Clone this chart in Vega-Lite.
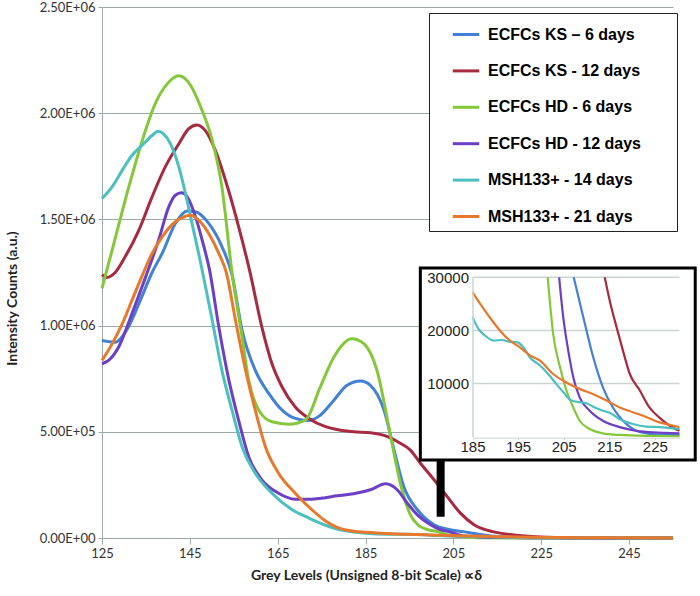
{
  "$schema": "https://vega.github.io/schema/vega-lite/v6.json",
  "width": 571,
  "height": 531,
  "autosize": {"type": "none"},
  "padding": {"left": 102, "top": 7, "right": 27, "bottom": 58},
  "background": "white",
  "config": {"view": {"stroke": null}, "font": "Lato", "axis": {"labelFont": "Lato", "titleFont": "Lato"}},
  "datasets": {
    "main": [
      {"series": "ECFCs KS – 6 days", "grey": 125, "count": 930000},
      {"series": "ECFCs KS – 6 days", "grey": 128, "count": 922000},
      {"series": "ECFCs KS – 6 days", "grey": 131, "count": 993000},
      {"series": "ECFCs KS – 6 days", "grey": 134, "count": 1133000},
      {"series": "ECFCs KS – 6 days", "grey": 136.4, "count": 1250000},
      {"series": "ECFCs KS – 6 days", "grey": 138.7, "count": 1340000},
      {"series": "ECFCs KS – 6 days", "grey": 141.7, "count": 1481000},
      {"series": "ECFCs KS – 6 days", "grey": 144.4, "count": 1540000},
      {"series": "ECFCs KS – 6 days", "grey": 146.3, "count": 1536000},
      {"series": "ECFCs KS – 6 days", "grey": 149.3, "count": 1481000},
      {"series": "ECFCs KS – 6 days", "grey": 152.3, "count": 1372000},
      {"series": "ECFCs KS – 6 days", "grey": 154.6, "count": 1239000},
      {"series": "ECFCs KS – 6 days", "grey": 156.9, "count": 977000},
      {"series": "ECFCs KS – 6 days", "grey": 159.9, "count": 789000},
      {"series": "ECFCs KS – 6 days", "grey": 163, "count": 680000},
      {"series": "ECFCs KS – 6 days", "grey": 166, "count": 602000},
      {"series": "ECFCs KS – 6 days", "grey": 169, "count": 563000},
      {"series": "ECFCs KS – 6 days", "grey": 172, "count": 553000},
      {"series": "ECFCs KS – 6 days", "grey": 174.5, "count": 575000},
      {"series": "ECFCs KS – 6 days", "grey": 177.8, "count": 649000},
      {"series": "ECFCs KS – 6 days", "grey": 180.8, "count": 719000},
      {"series": "ECFCs KS – 6 days", "grey": 183.9, "count": 739000},
      {"series": "ECFCs KS – 6 days", "grey": 186.1, "count": 719000},
      {"series": "ECFCs KS – 6 days", "grey": 189.2, "count": 602000},
      {"series": "ECFCs KS – 6 days", "grey": 191.5, "count": 414000},
      {"series": "ECFCs KS – 6 days", "grey": 193.7, "count": 242000},
      {"series": "ECFCs KS – 6 days", "grey": 196.8, "count": 133000},
      {"series": "ECFCs KS – 6 days", "grey": 200.6, "count": 62500},
      {"series": "ECFCs KS – 6 days", "grey": 204, "count": 40000},
      {"series": "ECFCs KS – 6 days", "grey": 207.2, "count": 30000},
      {"series": "ECFCs KS – 6 days", "grey": 211.5, "count": 14900},
      {"series": "ECFCs KS – 6 days", "grey": 215.8, "count": 5500},
      {"series": "ECFCs KS – 6 days", "grey": 220.2, "count": 1460},
      {"series": "ECFCs KS – 6 days", "grey": 226, "count": 390},
      {"series": "ECFCs KS – 6 days", "grey": 240, "count": 200},
      {"series": "ECFCs KS – 6 days", "grey": 255, "count": 100},
      {"series": "ECFCs KS - 12 days", "grey": 125, "count": 1240000},
      {"series": "ECFCs KS - 12 days", "grey": 126.1, "count": 1227000},
      {"series": "ECFCs KS - 12 days", "grey": 128, "count": 1250000},
      {"series": "ECFCs KS - 12 days", "grey": 130.3, "count": 1325000},
      {"series": "ECFCs KS - 12 days", "grey": 133.4, "count": 1450000},
      {"series": "ECFCs KS - 12 days", "grey": 136.4, "count": 1606000},
      {"series": "ECFCs KS - 12 days", "grey": 139.4, "count": 1747000},
      {"series": "ECFCs KS - 12 days", "grey": 142.5, "count": 1856000},
      {"series": "ECFCs KS - 12 days", "grey": 144.7, "count": 1926000},
      {"series": "ECFCs KS - 12 days", "grey": 146.6, "count": 1945000},
      {"series": "ECFCs KS - 12 days", "grey": 148.5, "count": 1919000},
      {"series": "ECFCs KS - 12 days", "grey": 150.8, "count": 1825000},
      {"series": "ECFCs KS - 12 days", "grey": 153.8, "count": 1637000},
      {"series": "ECFCs KS - 12 days", "grey": 156.1, "count": 1466000},
      {"series": "ECFCs KS - 12 days", "grey": 158.6, "count": 1260000},
      {"series": "ECFCs KS - 12 days", "grey": 161.4, "count": 993000},
      {"series": "ECFCs KS - 12 days", "grey": 163.7, "count": 820000},
      {"series": "ECFCs KS - 12 days", "grey": 166, "count": 711000},
      {"series": "ECFCs KS - 12 days", "grey": 169, "count": 617000},
      {"series": "ECFCs KS - 12 days", "grey": 172.1, "count": 563000},
      {"series": "ECFCs KS - 12 days", "grey": 175.9, "count": 524000},
      {"series": "ECFCs KS - 12 days", "grey": 178.5, "count": 511000},
      {"series": "ECFCs KS - 12 days", "grey": 182.3, "count": 500000},
      {"series": "ECFCs KS - 12 days", "grey": 186.1, "count": 495000},
      {"series": "ECFCs KS - 12 days", "grey": 190, "count": 477000},
      {"series": "ECFCs KS - 12 days", "grey": 193, "count": 445000},
      {"series": "ECFCs KS - 12 days", "grey": 195.2, "count": 414000},
      {"series": "ECFCs KS - 12 days", "grey": 197.5, "count": 352000},
      {"series": "ECFCs KS - 12 days", "grey": 200.6, "count": 274000},
      {"series": "ECFCs KS - 12 days", "grey": 203.6, "count": 195000},
      {"series": "ECFCs KS - 12 days", "grey": 206.6, "count": 117000},
      {"series": "ECFCs KS - 12 days", "grey": 209.7, "count": 62500},
      {"series": "ECFCs KS - 12 days", "grey": 214, "count": 30000},
      {"series": "ECFCs KS - 12 days", "grey": 218, "count": 16200},
      {"series": "ECFCs KS - 12 days", "grey": 223.8, "count": 5500},
      {"series": "ECFCs KS - 12 days", "grey": 228.2, "count": 2100},
      {"series": "ECFCs KS - 12 days", "grey": 235, "count": 600},
      {"series": "ECFCs KS - 12 days", "grey": 255, "count": 100},
      {"series": "ECFCs HD - 6 days", "grey": 125, "count": 1175000},
      {"series": "ECFCs HD - 6 days", "grey": 128, "count": 1410000},
      {"series": "ECFCs HD - 6 days", "grey": 131.1, "count": 1653000},
      {"series": "ECFCs HD - 6 days", "grey": 134.9, "count": 1919000},
      {"series": "ECFCs HD - 6 days", "grey": 137.1, "count": 2044000},
      {"series": "ECFCs HD - 6 days", "grey": 139.8, "count": 2137000},
      {"series": "ECFCs HD - 6 days", "grey": 142.5, "count": 2176000},
      {"series": "ECFCs HD - 6 days", "grey": 144.7, "count": 2145000},
      {"series": "ECFCs HD - 6 days", "grey": 147.8, "count": 2012000},
      {"series": "ECFCs HD - 6 days", "grey": 150.1, "count": 1872000},
      {"series": "ECFCs HD - 6 days", "grey": 152.3, "count": 1653000},
      {"series": "ECFCs HD - 6 days", "grey": 154.6, "count": 1250000},
      {"series": "ECFCs HD - 6 days", "grey": 156.9, "count": 946000},
      {"series": "ECFCs HD - 6 days", "grey": 158.4, "count": 742000},
      {"series": "ECFCs HD - 6 days", "grey": 160.7, "count": 602000},
      {"series": "ECFCs HD - 6 days", "grey": 163.7, "count": 547000},
      {"series": "ECFCs HD - 6 days", "grey": 167.5, "count": 536000},
      {"series": "ECFCs HD - 6 days", "grey": 171.3, "count": 555000},
      {"series": "ECFCs HD - 6 days", "grey": 174.7, "count": 711000},
      {"series": "ECFCs HD - 6 days", "grey": 177.8, "count": 852000},
      {"series": "ECFCs HD - 6 days", "grey": 181.9, "count": 938000},
      {"series": "ECFCs HD - 6 days", "grey": 184.6, "count": 915000},
      {"series": "ECFCs HD - 6 days", "grey": 187.6, "count": 789000},
      {"series": "ECFCs HD - 6 days", "grey": 190.7, "count": 480000},
      {"series": "ECFCs HD - 6 days", "grey": 192.9, "count": 260000},
      {"series": "ECFCs HD - 6 days", "grey": 195.2, "count": 110000},
      {"series": "ECFCs HD - 6 days", "grey": 197, "count": 60000},
      {"series": "ECFCs HD - 6 days", "grey": 199, "count": 40000},
      {"series": "ECFCs HD - 6 days", "grey": 201.5, "count": 30000},
      {"series": "ECFCs HD - 6 days", "grey": 204.2, "count": 13060},
      {"series": "ECFCs HD - 6 days", "grey": 207.1, "count": 5500},
      {"series": "ECFCs HD - 6 days", "grey": 210.7, "count": 1460},
      {"series": "ECFCs HD - 6 days", "grey": 217.3, "count": 330},
      {"series": "ECFCs HD - 6 days", "grey": 230, "count": 80},
      {"series": "ECFCs HD - 6 days", "grey": 255, "count": 10},
      {"series": "ECFCs HD - 12 days", "grey": 125, "count": 820000},
      {"series": "ECFCs HD - 12 days", "grey": 126.5, "count": 836000},
      {"series": "ECFCs HD - 12 days", "grey": 128.8, "count": 899000},
      {"series": "ECFCs HD - 12 days", "grey": 131.8, "count": 1055000},
      {"series": "ECFCs HD - 12 days", "grey": 134.9, "count": 1227000},
      {"series": "ECFCs HD - 12 days", "grey": 137.9, "count": 1403000},
      {"series": "ECFCs HD - 12 days", "grey": 140.2, "count": 1559000},
      {"series": "ECFCs HD - 12 days", "grey": 141.7, "count": 1614000},
      {"series": "ECFCs HD - 12 days", "grey": 143.1, "count": 1625000},
      {"series": "ECFCs HD - 12 days", "grey": 144.4, "count": 1606000},
      {"series": "ECFCs HD - 12 days", "grey": 146.3, "count": 1512000},
      {"series": "ECFCs HD - 12 days", "grey": 147.8, "count": 1403000},
      {"series": "ECFCs HD - 12 days", "grey": 149.5, "count": 1260000},
      {"series": "ECFCs HD - 12 days", "grey": 151.6, "count": 993000},
      {"series": "ECFCs HD - 12 days", "grey": 153.9, "count": 742000},
      {"series": "ECFCs HD - 12 days", "grey": 156.1, "count": 555000},
      {"series": "ECFCs HD - 12 days", "grey": 158.4, "count": 383000},
      {"series": "ECFCs HD - 12 days", "grey": 161.4, "count": 274000},
      {"series": "ECFCs HD - 12 days", "grey": 165.2, "count": 211000},
      {"series": "ECFCs HD - 12 days", "grey": 169, "count": 183000},
      {"series": "ECFCs HD - 12 days", "grey": 172.8, "count": 183000},
      {"series": "ECFCs HD - 12 days", "grey": 175.9, "count": 190000},
      {"series": "ECFCs HD - 12 days", "grey": 178.5, "count": 199000},
      {"series": "ECFCs HD - 12 days", "grey": 182.3, "count": 208000},
      {"series": "ECFCs HD - 12 days", "grey": 186.1, "count": 227000},
      {"series": "ECFCs HD - 12 days", "grey": 189.6, "count": 255000},
      {"series": "ECFCs HD - 12 days", "grey": 192.2, "count": 227000},
      {"series": "ECFCs HD - 12 days", "grey": 194.5, "count": 164000},
      {"series": "ECFCs HD - 12 days", "grey": 196.8, "count": 109000},
      {"series": "ECFCs HD - 12 days", "grey": 199.8, "count": 62500},
      {"series": "ECFCs HD - 12 days", "grey": 202, "count": 40000},
      {"series": "ECFCs HD - 12 days", "grey": 204, "count": 30000},
      {"series": "ECFCs HD - 12 days", "grey": 207.1, "count": 11200},
      {"series": "ECFCs HD - 12 days", "grey": 210.7, "count": 4900},
      {"series": "ECFCs HD - 12 days", "grey": 217.3, "count": 1800},
      {"series": "ECFCs HD - 12 days", "grey": 226, "count": 750},
      {"series": "ECFCs HD - 12 days", "grey": 240, "count": 300},
      {"series": "ECFCs HD - 12 days", "grey": 255, "count": 100},
      {"series": "MSH133+ - 14 days", "grey": 125, "count": 1598000},
      {"series": "MSH133+ - 14 days", "grey": 127.3, "count": 1653000},
      {"series": "MSH133+ - 14 days", "grey": 129.6, "count": 1731000},
      {"series": "MSH133+ - 14 days", "grey": 131.8, "count": 1801000},
      {"series": "MSH133+ - 14 days", "grey": 134.1, "count": 1848000},
      {"series": "MSH133+ - 14 days", "grey": 136.4, "count": 1895000},
      {"series": "MSH133+ - 14 days", "grey": 137.8, "count": 1915000},
      {"series": "MSH133+ - 14 days", "grey": 139, "count": 1903000},
      {"series": "MSH133+ - 14 days", "grey": 140.6, "count": 1856000},
      {"series": "MSH133+ - 14 days", "grey": 142.5, "count": 1747000},
      {"series": "MSH133+ - 14 days", "grey": 144, "count": 1622000},
      {"series": "MSH133+ - 14 days", "grey": 145.5, "count": 1481000},
      {"series": "MSH133+ - 14 days", "grey": 147, "count": 1340000},
      {"series": "MSH133+ - 14 days", "grey": 150.1, "count": 1024000},
      {"series": "MSH133+ - 14 days", "grey": 152.3, "count": 789000},
      {"series": "MSH133+ - 14 days", "grey": 154.6, "count": 602000},
      {"series": "MSH133+ - 14 days", "grey": 156.9, "count": 430000},
      {"series": "MSH133+ - 14 days", "grey": 159.9, "count": 305000},
      {"series": "MSH133+ - 14 days", "grey": 163.7, "count": 211000},
      {"series": "MSH133+ - 14 days", "grey": 168.3, "count": 133000},
      {"series": "MSH133+ - 14 days", "grey": 172.1, "count": 94000},
      {"series": "MSH133+ - 14 days", "grey": 175.9, "count": 60000},
      {"series": "MSH133+ - 14 days", "grey": 178.5, "count": 42000},
      {"series": "MSH133+ - 14 days", "grey": 182.3, "count": 28000},
      {"series": "MSH133+ - 14 days", "grey": 185, "count": 22500},
      {"series": "MSH133+ - 14 days", "grey": 189.6, "count": 18100},
      {"series": "MSH133+ - 14 days", "grey": 194.7, "count": 17800},
      {"series": "MSH133+ - 14 days", "grey": 199.8, "count": 13400},
      {"series": "MSH133+ - 14 days", "grey": 204.9, "count": 8400},
      {"series": "MSH133+ - 14 days", "grey": 210, "count": 6300},
      {"series": "MSH133+ - 14 days", "grey": 215.1, "count": 4500},
      {"series": "MSH133+ - 14 days", "grey": 220.2, "count": 2400},
      {"series": "MSH133+ - 14 days", "grey": 230.4, "count": 1450},
      {"series": "MSH133+ - 14 days", "grey": 240, "count": 800},
      {"series": "MSH133+ - 14 days", "grey": 255, "count": 300},
      {"series": "MSH133+ - 21 days", "grey": 125, "count": 836000},
      {"series": "MSH133+ - 21 days", "grey": 127.3, "count": 914000},
      {"series": "MSH133+ - 21 days", "grey": 129.6, "count": 1008000},
      {"series": "MSH133+ - 21 days", "grey": 131.8, "count": 1118000},
      {"series": "MSH133+ - 21 days", "grey": 134.1, "count": 1233000},
      {"series": "MSH133+ - 21 days", "grey": 136.4, "count": 1340000},
      {"series": "MSH133+ - 21 days", "grey": 138.7, "count": 1418000},
      {"series": "MSH133+ - 21 days", "grey": 141.7, "count": 1489000},
      {"series": "MSH133+ - 21 days", "grey": 144, "count": 1515000},
      {"series": "MSH133+ - 21 days", "grey": 145.1, "count": 1520000},
      {"series": "MSH133+ - 21 days", "grey": 147, "count": 1497000},
      {"series": "MSH133+ - 21 days", "grey": 149.3, "count": 1434000},
      {"series": "MSH133+ - 21 days", "grey": 151.6, "count": 1340000},
      {"series": "MSH133+ - 21 days", "grey": 153.3, "count": 1250000},
      {"series": "MSH133+ - 21 days", "grey": 155.4, "count": 1024000},
      {"series": "MSH133+ - 21 days", "grey": 157.7, "count": 789000},
      {"series": "MSH133+ - 21 days", "grey": 159.9, "count": 602000},
      {"series": "MSH133+ - 21 days", "grey": 162.2, "count": 430000},
      {"series": "MSH133+ - 21 days", "grey": 165.2, "count": 305000},
      {"series": "MSH133+ - 21 days", "grey": 169, "count": 211000},
      {"series": "MSH133+ - 21 days", "grey": 172.8, "count": 133000},
      {"series": "MSH133+ - 21 days", "grey": 175.9, "count": 80000},
      {"series": "MSH133+ - 21 days", "grey": 178.5, "count": 50000},
      {"series": "MSH133+ - 21 days", "grey": 182.3, "count": 32000},
      {"series": "MSH133+ - 21 days", "grey": 185, "count": 27200},
      {"series": "MSH133+ - 21 days", "grey": 191, "count": 20000},
      {"series": "MSH133+ - 21 days", "grey": 199.8, "count": 14300},
      {"series": "MSH133+ - 21 days", "grey": 205.6, "count": 10200},
      {"series": "MSH133+ - 21 days", "grey": 211.5, "count": 8000},
      {"series": "MSH133+ - 21 days", "grey": 217.3, "count": 5500},
      {"series": "MSH133+ - 21 days", "grey": 223.1, "count": 3700},
      {"series": "MSH133+ - 21 days", "grey": 228.9, "count": 2100},
      {"series": "MSH133+ - 21 days", "grey": 235, "count": 1200},
      {"series": "MSH133+ - 21 days", "grey": 245, "count": 600},
      {"series": "MSH133+ - 21 days", "grey": 255, "count": 300}
    ],
    "inset": [
      {"series": "ECFCs KS – 6 days", "g": 207.2, "c": 30000},
      {"series": "ECFCs KS – 6 days", "g": 209.3, "c": 22500},
      {"series": "ECFCs KS – 6 days", "g": 211.5, "c": 14900},
      {"series": "ECFCs KS – 6 days", "g": 213.6, "c": 9300},
      {"series": "ECFCs KS – 6 days", "g": 215.8, "c": 5500},
      {"series": "ECFCs KS – 6 days", "g": 218, "c": 3000},
      {"series": "ECFCs KS – 6 days", "g": 220.2, "c": 1460},
      {"series": "ECFCs KS – 6 days", "g": 223.1, "c": 640},
      {"series": "ECFCs KS – 6 days", "g": 226, "c": 390},
      {"series": "ECFCs KS – 6 days", "g": 230.4, "c": 330},
      {"series": "ECFCs KS - 12 days", "g": 214, "c": 30000},
      {"series": "ECFCs KS - 12 days", "g": 215.1, "c": 25600},
      {"series": "ECFCs KS - 12 days", "g": 216.6, "c": 20600},
      {"series": "ECFCs KS - 12 days", "g": 218, "c": 16200},
      {"series": "ECFCs KS - 12 days", "g": 219.5, "c": 11800},
      {"series": "ECFCs KS - 12 days", "g": 221.7, "c": 8700},
      {"series": "ECFCs KS - 12 days", "g": 223.8, "c": 5500},
      {"series": "ECFCs KS - 12 days", "g": 226, "c": 3600},
      {"series": "ECFCs KS - 12 days", "g": 228.2, "c": 2100},
      {"series": "ECFCs KS - 12 days", "g": 230.4, "c": 1100},
      {"series": "ECFCs HD - 6 days", "g": 201.5, "c": 30000},
      {"series": "ECFCs HD - 6 days", "g": 202.7, "c": 19300},
      {"series": "ECFCs HD - 6 days", "g": 204.2, "c": 13060},
      {"series": "ECFCs HD - 6 days", "g": 205.6, "c": 8700},
      {"series": "ECFCs HD - 6 days", "g": 207.1, "c": 5500},
      {"series": "ECFCs HD - 6 days", "g": 208.5, "c": 3000},
      {"series": "ECFCs HD - 6 days", "g": 210.7, "c": 1460},
      {"series": "ECFCs HD - 6 days", "g": 213.6, "c": 640},
      {"series": "ECFCs HD - 6 days", "g": 217.3, "c": 330},
      {"series": "ECFCs HD - 6 days", "g": 224.6, "c": 140},
      {"series": "ECFCs HD - 6 days", "g": 230.4, "c": 80},
      {"series": "ECFCs HD - 12 days", "g": 204, "c": 30000},
      {"series": "ECFCs HD - 12 days", "g": 204.9, "c": 22500},
      {"series": "ECFCs HD - 12 days", "g": 206, "c": 16200},
      {"series": "ECFCs HD - 12 days", "g": 207.1, "c": 11200},
      {"series": "ECFCs HD - 12 days", "g": 208.5, "c": 7400},
      {"series": "ECFCs HD - 12 days", "g": 210.7, "c": 4900},
      {"series": "ECFCs HD - 12 days", "g": 213.6, "c": 3000},
      {"series": "ECFCs HD - 12 days", "g": 217.3, "c": 1800},
      {"series": "ECFCs HD - 12 days", "g": 221, "c": 1100},
      {"series": "ECFCs HD - 12 days", "g": 224.6, "c": 800},
      {"series": "ECFCs HD - 12 days", "g": 230.4, "c": 640},
      {"series": "MSH133+ - 14 days", "g": 185, "c": 22500},
      {"series": "MSH133+ - 14 days", "g": 186.3, "c": 20300},
      {"series": "MSH133+ - 14 days", "g": 187.8, "c": 19000},
      {"series": "MSH133+ - 14 days", "g": 189.6, "c": 18100},
      {"series": "MSH133+ - 14 days", "g": 191.4, "c": 18200},
      {"series": "MSH133+ - 14 days", "g": 192.9, "c": 17900},
      {"series": "MSH133+ - 14 days", "g": 194.7, "c": 17800},
      {"series": "MSH133+ - 14 days", "g": 196.2, "c": 16800},
      {"series": "MSH133+ - 14 days", "g": 197.6, "c": 14900},
      {"series": "MSH133+ - 14 days", "g": 199.8, "c": 13400},
      {"series": "MSH133+ - 14 days", "g": 201.6, "c": 11800},
      {"series": "MSH133+ - 14 days", "g": 203.4, "c": 9900},
      {"series": "MSH133+ - 14 days", "g": 204.9, "c": 8400},
      {"series": "MSH133+ - 14 days", "g": 206.7, "c": 6800},
      {"series": "MSH133+ - 14 days", "g": 208.5, "c": 6500},
      {"series": "MSH133+ - 14 days", "g": 210, "c": 6300},
      {"series": "MSH133+ - 14 days", "g": 211.8, "c": 5500},
      {"series": "MSH133+ - 14 days", "g": 213.6, "c": 4900},
      {"series": "MSH133+ - 14 days", "g": 215.1, "c": 4500},
      {"series": "MSH133+ - 14 days", "g": 217.3, "c": 3300},
      {"series": "MSH133+ - 14 days", "g": 220.2, "c": 2400},
      {"series": "MSH133+ - 14 days", "g": 223.1, "c": 1900},
      {"series": "MSH133+ - 14 days", "g": 226, "c": 1800},
      {"series": "MSH133+ - 14 days", "g": 230.4, "c": 1450},
      {"series": "MSH133+ - 21 days", "g": 185, "c": 27200},
      {"series": "MSH133+ - 21 days", "g": 186.7, "c": 25000},
      {"series": "MSH133+ - 21 days", "g": 188.5, "c": 22800},
      {"series": "MSH133+ - 21 days", "g": 191, "c": 20000},
      {"series": "MSH133+ - 21 days", "g": 193.2, "c": 18100},
      {"series": "MSH133+ - 21 days", "g": 195.4, "c": 16800},
      {"series": "MSH133+ - 21 days", "g": 197.6, "c": 15300},
      {"series": "MSH133+ - 21 days", "g": 199.8, "c": 14300},
      {"series": "MSH133+ - 21 days", "g": 202.7, "c": 11800},
      {"series": "MSH133+ - 21 days", "g": 205.6, "c": 10200},
      {"series": "MSH133+ - 21 days", "g": 208.5, "c": 9000},
      {"series": "MSH133+ - 21 days", "g": 211.5, "c": 8000},
      {"series": "MSH133+ - 21 days", "g": 214.4, "c": 6800},
      {"series": "MSH133+ - 21 days", "g": 217.3, "c": 5500},
      {"series": "MSH133+ - 21 days", "g": 220.2, "c": 4600},
      {"series": "MSH133+ - 21 days", "g": 223.1, "c": 3700},
      {"series": "MSH133+ - 21 days", "g": 226, "c": 2700},
      {"series": "MSH133+ - 21 days", "g": 228.9, "c": 2100},
      {"series": "MSH133+ - 21 days", "g": 230.4, "c": 1800}
    ],
    "bar": [{"grey": 202.1, "count": 100000, "count2": 380000}],
    "box": [{"g": 173.56, "g2": 233.85, "c": -4370, "c2": 31742}],
    "grid": [
      {"g": 185, "g2": 230.4, "c": 10000},
      {"g": 185, "g2": 230.4, "c": 20000},
      {"g": 185, "g2": 230.4, "c": 30000}
    ]
  },
  "layer": [
    {
      "layer": [
        {
          "data": {"name": "main"},
          "mark": {"type": "line", "interpolate": "monotone", "strokeWidth": 3},
          "encoding": {
            "x": {
              "field": "grey", "type": "quantitative",
              "scale": {"domain": [125, 255], "nice": false, "zero": false},
              "axis": {
                "title": "Grey Levels (Unsigned 8-bit Scale) ∝δ",
                "values": [125, 145, 165, 185, 205, 225, 245],
                "grid": false, "labelFlush": false,
                "domainColor": "#9fa8a8", "tickColor": "#9fa8a8", "tickSize": 6,
                "labelFontSize": 13, "labelColor": "#333333", "labelPadding": 3,
                "titleFontSize": 14, "titleFontWeight": "bold", "titleColor": "#222222",
                "titleX": 264, "titleY": 30
              }
            },
            "y": {
              "field": "count", "type": "quantitative",
              "scale": {"domain": [0, 2500000], "nice": false, "zero": false},
              "axis": {
                "title": "Intensity Counts (a.u.)",
                "values": [0, 500000, 1000000, 1500000, 2000000, 2500000],
                "labelExpr": "replace(format(datum.value, '.2e'), 'e+', 'E+0')",
                "grid": true, "gridColor": "#9fa8a8", "gridWidth": 1.2,
                "domainColor": "#9fa8a8", "tickColor": "#9fa8a8", "tickSize": 4,
                "labelFontSize": 13, "labelColor": "#333333", "labelPadding": 3,
                "titleFontSize": 14, "titleFontWeight": "bold", "titleColor": "#222222",
                "titleX": -83, "titleY": 291
              }
            },
            "color": {
              "field": "series", "type": "nominal",
              "scale": {
                "domain": ["ECFCs KS – 6 days", "ECFCs KS - 12 days", "ECFCs HD - 6 days", "ECFCs HD - 12 days", "MSH133+ - 14 days", "MSH133+ - 21 days"],
                "range": ["#4381d6", "#a82a40", "#84c83a", "#6c40c4", "#4cc0c0", "#e8782c"]
              },
              "legend": {
                "orient": "none", "legendX": 327, "legendY": 6, "title": "\u00a0",
                "titleOrient": "right", "titlePadding": 30, "titleFontSize": 14,
                "symbolType": "stroke", "symbolStrokeWidth": 3, "symbolSize": 700,
                "labelFont": "Liberation Sans", "labelFontWeight": "bold", "labelFontSize": 16,
                "labelColor": "black", "labelOffset": 7, "strokeColor": "#222222", "fillColor": "white",
                "padding": 6.5, "symbolOffset": 15.5, "rowPadding": 13.4
              }
            }
          }
        },
        {
          "data": {"name": "bar"},
          "mark": {"type": "rule", "strokeWidth": 8, "color": "black"},
          "encoding": {
            "x": {"field": "grey", "type": "quantitative", "scale": {"domain": [125, 255], "nice": false, "zero": false}},
            "y": {"field": "count", "type": "quantitative", "scale": {"domain": [0, 2500000], "nice": false, "zero": false}},
            "y2": {"field": "count2"}
          }
        }
      ]
    },
    {
      "layer": [
        {
          "data": {"name": "box"},
          "mark": {"type": "rect", "fill": "white", "stroke": "black", "strokeWidth": 3},
          "encoding": {
            "x": {
              "field": "g", "type": "quantitative",
              "scale": {"domain": [185, 230.4], "range": [370.5, 577.5], "nice": false, "zero": false},
              "axis": {
                "orient": "bottom", "offset": -100.3, "title": null, "grid": false, "labelFlush": false,
                "values": [185, 195, 205, 215, 225], "format": "d", "labelFont": "Liberation Sans", "labelFontSize": 15,
                "labelColor": "#222222", "tickColor": "#cdd4d4", "tickSize": 2, "domainColor": "#cdd4d4",
                "labelPadding": 0, "zindex": 1
              }
            },
            "x2": {"field": "g2"},
            "y": {
              "field": "c", "type": "quantitative",
              "scale": {"domain": [0, 30000], "range": [429.7, 270.3], "nice": false, "zero": false},
              "axis": {
                "orient": "left", "offset": -370.5, "title": null, "grid": false,
                "values": [10000, 20000, 30000], "format": "d", "labelFont": "Liberation Sans", "labelFontSize": 15,
                "labelColor": "#222222", "ticks": false, "domainColor": "#cdd4d4", "domainWidth": 1.5,
                "labelPadding": 4, "zindex": 1
              }
            },
            "y2": {"field": "c2"}
          }
        },
        {
          "data": {"name": "grid"},
          "mark": {"type": "rule", "color": "#cdd4d4", "strokeWidth": 1.5},
          "encoding": {
            "x": {
              "field": "g", "type": "quantitative",
              "scale": {"domain": [185, 230.4], "range": [370.5, 577.5], "nice": false, "zero": false},
              "axis": {
                "orient": "bottom", "offset": -100.3, "title": null, "grid": false, "labelFlush": false,
                "values": [185, 195, 205, 215, 225], "format": "d", "labelFont": "Liberation Sans", "labelFontSize": 15,
                "labelColor": "#222222", "tickColor": "#cdd4d4", "tickSize": 2, "domainColor": "#cdd4d4",
                "labelPadding": 0, "zindex": 1
              }
            },
            "x2": {"field": "g2"},
            "y": {
              "field": "c", "type": "quantitative",
              "scale": {"domain": [0, 30000], "range": [429.7, 270.3], "nice": false, "zero": false},
              "axis": {
                "orient": "left", "offset": -370.5, "title": null, "grid": false,
                "values": [10000, 20000, 30000], "format": "d", "labelFont": "Liberation Sans", "labelFontSize": 15,
                "labelColor": "#222222", "ticks": false, "domainColor": "#cdd4d4", "domainWidth": 1.5,
                "labelPadding": 4, "zindex": 1
              }
            }
          }
        },
        {
          "data": {"name": "inset"},
          "mark": {"type": "line", "interpolate": "monotone", "strokeWidth": 2.2},
          "encoding": {
            "x": {
              "field": "g", "type": "quantitative",
              "scale": {"domain": [185, 230.4], "range": [370.5, 577.5], "nice": false, "zero": false},
              "axis": {
                "orient": "bottom", "offset": -100.3, "title": null, "grid": false, "labelFlush": false,
                "values": [185, 195, 205, 215, 225], "format": "d", "labelFont": "Liberation Sans", "labelFontSize": 15,
                "labelColor": "#222222", "tickColor": "#cdd4d4", "tickSize": 2, "domainColor": "#cdd4d4",
                "labelPadding": 0, "zindex": 1
              }
            },
            "y": {
              "field": "c", "type": "quantitative",
              "scale": {"domain": [0, 30000], "range": [429.7, 270.3], "nice": false, "zero": false},
              "axis": {
                "orient": "left", "offset": -370.5, "title": null, "grid": false,
                "values": [10000, 20000, 30000], "format": "d", "labelFont": "Liberation Sans", "labelFontSize": 15,
                "labelColor": "#222222", "ticks": false, "domainColor": "#cdd4d4", "domainWidth": 1.5,
                "labelPadding": 4, "zindex": 1
              }
            },
            "color": {
              "field": "series", "type": "nominal",
              "scale": {
                "domain": ["ECFCs KS – 6 days", "ECFCs KS - 12 days", "ECFCs HD - 6 days", "ECFCs HD - 12 days", "MSH133+ - 14 days", "MSH133+ - 21 days"],
                "range": ["#4381d6", "#a82a40", "#84c83a", "#6c40c4", "#4cc0c0", "#e8782c"]
              }
            }
          }
        }
      ]
    }
  ],
  "resolve": {
    "scale": {"x": "independent", "y": "independent"},
    "axis": {"x": "independent", "y": "independent"}
  }
}
